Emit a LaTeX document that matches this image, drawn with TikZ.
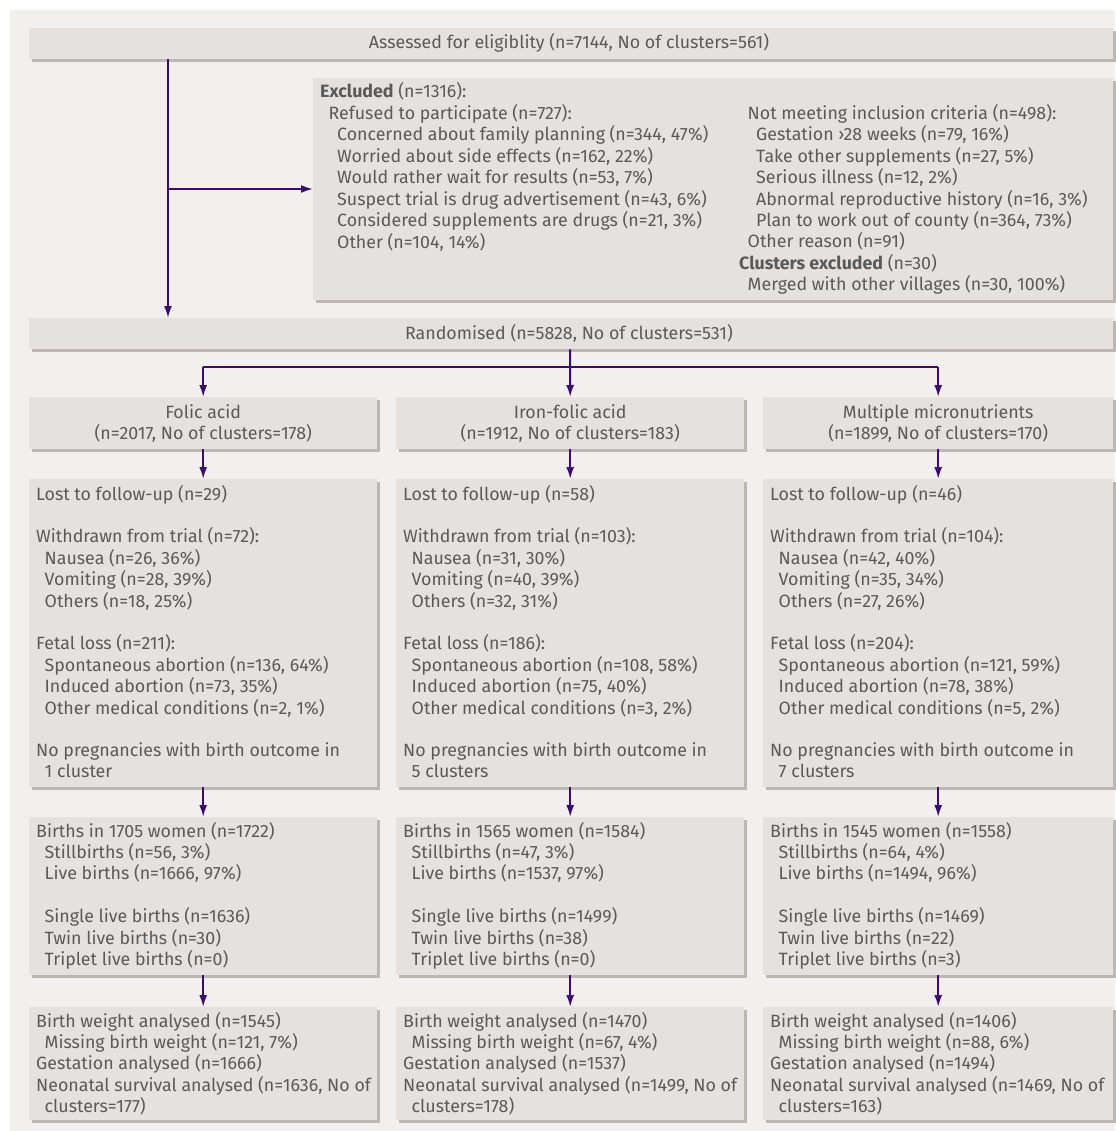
\documentclass[tikz,border=0pt]{standalone}
\usepackage{fontspec}
\setmainfont{Fira Sans}
\usetikzlibrary{arrows.meta,shadows}
\definecolor{bgc}{HTML}{F1F0EE}
\definecolor{boxc}{HTML}{E5E1DE}
\definecolor{shc}{HTML}{BDB6B2}
\definecolor{txc}{HTML}{5A5A5A}
\definecolor{arc}{HTML}{3C0A6E}
\newcommand\myind{\hspace*{8.5pt}}
\newcommand\myindd{\hspace*{17pt}}
\tikzset{
  panel/.style={fill=boxc, draw=none, inner sep=0pt, anchor=north west,
    drop shadow={shadow xshift=3pt, shadow yshift=-3pt, fill=shc, opacity=1}},
  txt/.style={inner sep=0pt, anchor=base west, text=txc, font=\fontsize{17.8}{21.3}\selectfont},
  ctxt/.style={txt, anchor=base},
  conn/.style={draw=arc, line width=2pt},
  arr/.style={conn, -{Latex[length=12pt,width=8pt]}}
}
\begin{document}
\begin{tikzpicture}[x=1pt,y=-1pt]
\useasboundingbox (0,0) rectangle (1115,1131);
\fill[bgc] (10,10) rectangle (1115,1131);

% boxes
\node[panel, minimum width=1084pt, minimum height=31pt] (assess) at (29,28) {};
\node[panel, minimum width=800pt, minimum height=222pt] (excl) at (313,78) {};
\node[panel, minimum width=1084pt, minimum height=31pt] (random) at (29,318) {};
\node[panel, minimum width=348pt, minimum height=52pt] (g1) at (29,397) {};
\node[panel, minimum width=348pt, minimum height=52pt] (g2) at (396,397) {};
\node[panel, minimum width=350pt, minimum height=52pt] (g3) at (763,397) {};
\node[panel, minimum width=348pt, minimum height=308pt] (l1) at (29,479) {};
\node[panel, minimum width=348pt, minimum height=308pt] (l2) at (396,479) {};
\node[panel, minimum width=350pt, minimum height=308pt] (l3) at (763,479) {};
\node[panel, minimum width=348pt, minimum height=158pt] (b1) at (29,817) {};
\node[panel, minimum width=348pt, minimum height=158pt] (b2) at (396,817) {};
\node[panel, minimum width=350pt, minimum height=158pt] (b3) at (763,817) {};
\node[panel, minimum width=348pt, minimum height=113pt] (f1) at (29,1007) {};
\node[panel, minimum width=348pt, minimum height=113pt] (f2) at (396,1007) {};
\node[panel, minimum width=350pt, minimum height=113pt] (f3) at (763,1007) {};

% texts
\node[ctxt] (tassess) at (569,49) {Assessed for eligiblity (n=7144, No of clusters=561)};
\node[ctxt] (trandom) at (569,339) {Randomised (n=5828, No of clusters=531)};

\node[txt] (texclA) at (320,98) {\begin{tabular}[t]{@{}l@{}}
\textbf{Excluded} (n=1316):\\
\myind Refused to participate (n=727):\\
\myindd Concerned about family planning (n=344, 47\%)\\
\myindd Worried about side effects (n=162, 22\%)\\
\myindd Would rather wait for results (n=53, 7\%)\\
\myindd Suspect trial is drug advertisement (n=43, 6\%)\\
\myindd Considered supplements are drugs (n=21, 3\%)\\
\myindd Other (n=104, 14\%)
\end{tabular}};
\node[txt] (texclB) at (739,119.3) {\begin{tabular}[t]{@{}l@{}}
\myind Not meeting inclusion criteria (n=498):\\
\myindd Gestation ›28 weeks (n=79, 16\%)\\
\myindd Take other supplements (n=27, 5\%)\\
\myindd Serious illness (n=12, 2\%)\\
\myindd Abnormal reproductive history (n=16, 3\%)\\
\myindd Plan to work out of county (n=364, 73\%)\\
\myind Other reason (n=91)\\
\textbf{Clusters excluded} (n=30)\\
\myind Merged with other villages (n=30, 100\%)
\end{tabular}};

\node[ctxt] (tg1) at (g1.north |- 0,418) {\begin{tabular}[t]{@{}c@{}}Folic acid\\(n=2017, No of clusters=178)\end{tabular}};
\node[ctxt] (tg2) at (g2.north |- 0,418) {\begin{tabular}[t]{@{}c@{}}Iron-folic acid\\(n=1912, No of clusters=183)\end{tabular}};
\node[ctxt] (tg3) at (g3.north |- 0,418) {\begin{tabular}[t]{@{}c@{}}Multiple micronutrients\\(n=1899, No of clusters=170)\end{tabular}};

\node[txt] (tl1) at (36,500) {\begin{tabular}[t]{@{}l@{}}
Lost to follow-up (n=29)\\ \\
Withdrawn from trial (n=72):\\
\myind Nausea (n=26, 36\%)\\
\myind Vomiting (n=28, 39\%)\\
\myind Others (n=18, 25\%)\\ \\
Fetal loss (n=211):\\
\myind Spontaneous abortion (n=136, 64\%)\\
\myind Induced abortion (n=73, 35\%)\\
\myind Other medical conditions (n=2, 1\%)\\ \\
No pregnancies with birth outcome in\\
\myind 1 cluster
\end{tabular}};
\node[txt] (tl2) at (403,500) {\begin{tabular}[t]{@{}l@{}}
Lost to follow-up (n=58)\\ \\
Withdrawn from trial (n=103):\\
\myind Nausea (n=31, 30\%)\\
\myind Vomiting (n=40, 39\%)\\
\myind Others (n=32, 31\%)\\ \\
Fetal loss (n=186):\\
\myind Spontaneous abortion (n=108, 58\%)\\
\myind Induced abortion (n=75, 40\%)\\
\myind Other medical conditions (n=3, 2\%)\\ \\
No pregnancies with birth outcome in\\
\myind 5 clusters
\end{tabular}};
\node[txt] (tl3) at (770,500) {\begin{tabular}[t]{@{}l@{}}
Lost to follow-up (n=46)\\ \\
Withdrawn from trial (n=104):\\
\myind Nausea (n=42, 40\%)\\
\myind Vomiting (n=35, 34\%)\\
\myind Others (n=27, 26\%)\\ \\
Fetal loss (n=204):\\
\myind Spontaneous abortion (n=121, 59\%)\\
\myind Induced abortion (n=78, 38\%)\\
\myind Other medical conditions (n=5, 2\%)\\ \\
No pregnancies with birth outcome in\\
\myind 7 clusters
\end{tabular}};

\node[txt] (tb1) at (36,837) {\begin{tabular}[t]{@{}l@{}}
Births in 1705 women (n=1722)\\
\myind Stillbirths (n=56, 3\%)\\
\myind Live births (n=1666, 97\%)\\ \\
\myind Single live births (n=1636)\\
\myind Twin live births (n=30)\\
\myind Triplet live births (n=0)
\end{tabular}};
\node[txt] (tb2) at (403,837) {\begin{tabular}[t]{@{}l@{}}
Births in 1565 women (n=1584)\\
\myind Stillbirths (n=47, 3\%)\\
\myind Live births (n=1537, 97\%)\\ \\
\myind Single live births (n=1499)\\
\myind Twin live births (n=38)\\
\myind Triplet live births (n=0)
\end{tabular}};
\node[txt] (tb3) at (770,837) {\begin{tabular}[t]{@{}l@{}}
Births in 1545 women (n=1558)\\
\myind Stillbirths (n=64, 4\%)\\
\myind Live births (n=1494, 96\%)\\ \\
\myind Single live births (n=1469)\\
\myind Twin live births (n=22)\\
\myind Triplet live births (n=3)
\end{tabular}};

\node[txt] (tf1) at (36,1027) {\begin{tabular}[t]{@{}l@{}}
Birth weight analysed (n=1545)\\
\myind Missing birth weight (n=121, 7\%)\\
Gestation analysed (n=1666)\\
Neonatal survival analysed (n=1636, No of\\
\myind clusters=177)
\end{tabular}};
\node[txt] (tf2) at (403,1027) {\begin{tabular}[t]{@{}l@{}}
Birth weight analysed (n=1470)\\
\myind Missing birth weight (n=67, 4\%)\\
Gestation analysed (n=1537)\\
Neonatal survival analysed (n=1499, No of\\
\myind clusters=178)
\end{tabular}};
\node[txt] (tf3) at (770,1027) {\begin{tabular}[t]{@{}l@{}}
Birth weight analysed (n=1406)\\
\myind Missing birth weight (n=88, 6\%)\\
Gestation analysed (n=1494)\\
Neonatal survival analysed (n=1469, No of\\
\myind clusters=163)
\end{tabular}};

% connectors
\coordinate (trunk) at (168,189);
\draw[arr] (assess.south -| trunk) -- (random.north -| trunk);
\draw[arr] (trunk) -- (excl.west |- trunk);
\coordinate (split) at (570,367);
\draw[conn] (random.south -| g2.north) -- (split);
\draw[conn] (split -| g1.north) -- (split -| g3.north);
\draw[arr] (split -| g1.north) -- (g1.north);
\draw[arr] (split) -- (g2.north);
\draw[arr] (split -| g3.north) -- (g3.north);
\foreach \c in {1,2,3}{
  \draw[arr] (g\c.south) -- (l\c.north);
  \draw[arr] (l\c.south) -- (b\c.north);
  \draw[arr] (b\c.south) -- (f\c.north);
}
\end{tikzpicture}
\end{document}
